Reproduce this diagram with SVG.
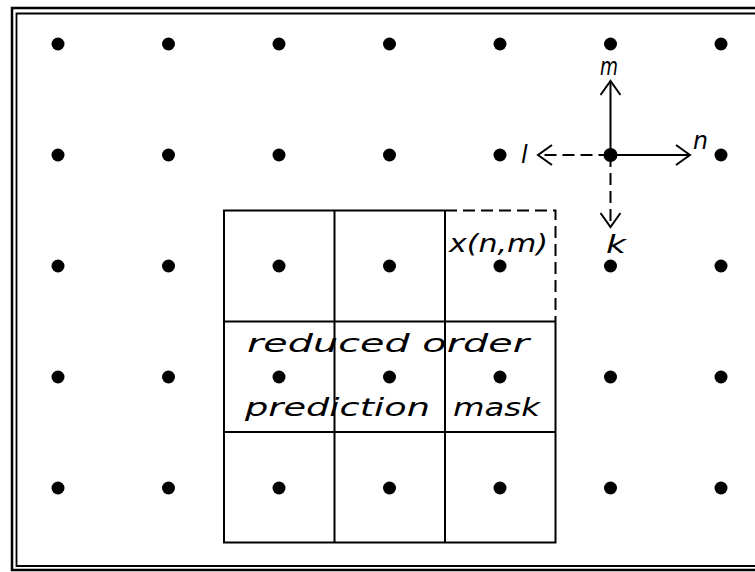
<svg xmlns="http://www.w3.org/2000/svg" width="755" height="572" viewBox="0 0 755 572">
<style>
.dot{fill:#000}
.grid{fill:none;stroke:#000;stroke-width:2}
.dash{fill:none;stroke:#000;stroke-width:2;stroke-dasharray:12 6}
.ax{fill:none;stroke:#000;stroke-width:2}
.axd{fill:none;stroke:#000;stroke-width:2;stroke-dasharray:12 6}
.lbl{font-family:"DejaVu Sans","Liberation Sans",sans-serif;font-style:oblique;font-size:24px;fill:#000}
</style>
<defs>
<marker id="chev" markerUnits="userSpaceOnUse" markerWidth="40" markerHeight="40" refX="0" refY="0" orient="auto" viewBox="-20 -20 40 40" overflow="visible">
<path d="M-14,-10 L0,0 L-14,10" fill="none" stroke="#000" stroke-width="2" stroke-dasharray="none"/>
</marker>
</defs>
<rect width="755" height="572" fill="#fff"/>
<g id="border">
<path d="M800,8 L12,8 L12,570 L800,570" fill="none" stroke="#000" stroke-width="2.5"/>
<path d="M800,13.5 L16.5,13.5 L16.5,566 L800,566" fill="none" stroke="#000" stroke-width="1.8"/>
</g>
<g id="dots">
<circle class="dot" cx="58" cy="44" r="6.5"/><circle class="dot" cx="168.5" cy="44" r="6.5"/><circle class="dot" cx="279" cy="44" r="6.5"/><circle class="dot" cx="389.5" cy="44" r="6.5"/><circle class="dot" cx="500" cy="44" r="6.5"/><circle class="dot" cx="610.5" cy="44" r="6.5"/><circle class="dot" cx="721" cy="44" r="6.5"/>
<circle class="dot" cx="58" cy="155" r="6.5"/><circle class="dot" cx="168.5" cy="155" r="6.5"/><circle class="dot" cx="279" cy="155" r="6.5"/><circle class="dot" cx="389.5" cy="155" r="6.5"/><circle class="dot" cx="500" cy="155" r="6.5"/><circle class="dot" cx="610.5" cy="155" r="7"/><circle class="dot" cx="721" cy="155" r="6.5"/>
<circle class="dot" cx="58" cy="266" r="6.5"/><circle class="dot" cx="168.5" cy="266" r="6.5"/><circle class="dot" cx="279" cy="266" r="6.5"/><circle class="dot" cx="389.5" cy="266" r="6.5"/><circle class="dot" cx="500" cy="266" r="6.5"/><circle class="dot" cx="610.5" cy="266" r="6.5"/><circle class="dot" cx="721" cy="266" r="6.5"/>
<circle class="dot" cx="58" cy="377" r="6.5"/><circle class="dot" cx="168.5" cy="377" r="6.5"/><circle class="dot" cx="279" cy="377" r="6.5"/><circle class="dot" cx="389.5" cy="377" r="6.5"/><circle class="dot" cx="500" cy="377" r="6.5"/><circle class="dot" cx="610.5" cy="377" r="6.5"/><circle class="dot" cx="721" cy="377" r="6.5"/>
<circle class="dot" cx="58" cy="488" r="6.5"/><circle class="dot" cx="168.5" cy="488" r="6.5"/><circle class="dot" cx="279" cy="488" r="6.5"/><circle class="dot" cx="389.5" cy="488" r="6.5"/><circle class="dot" cx="500" cy="488" r="6.5"/><circle class="dot" cx="610.5" cy="488" r="6.5"/><circle class="dot" cx="721" cy="488" r="6.5"/>
</g>
<g id="mask">
<path class="grid" d="M445,210.5 L224,210.5 L224,542.5 L555.5,542.5 L555.5,321.5 M334.5,210.5 L334.5,542.5 M445,210.5 L445,542.5 M224,321.5 L555.5,321.5 M224,432 L555.5,432"/>
<path class="dash" d="M445,210.5 L555.5,210.5 L555.5,321.5"/>
</g>
<g id="connectors">
<path class="ax" d="M610.5,155 L610.5,81" marker-end="url(#chev)"/>
<path class="ax" d="M610.5,155 L690,155" marker-end="url(#chev)"/>
<path class="axd" d="M610.5,155 L538,155" marker-end="url(#chev)"/>
<path class="axd" d="M610.5,155 L610.5,227" marker-end="url(#chev)"/>
</g>
<g id="labels">
<text class="lbl" x="600" y="75" textLength="18" lengthAdjust="spacingAndGlyphs">m</text>
<text class="lbl" x="693" y="149" textLength="15" lengthAdjust="spacingAndGlyphs">n</text>
<text class="lbl" x="521" y="163" font-size="27">l</text>
<text class="lbl" x="606" y="253" font-size="30" textLength="20" lengthAdjust="spacingAndGlyphs">k</text>
<text class="lbl" x="449" y="252" textLength="99" lengthAdjust="spacingAndGlyphs">x(n,m)</text>
<text class="lbl" x="247" y="352" textLength="282" lengthAdjust="spacingAndGlyphs">reduced order</text>
<text class="lbl" x="245" y="416" textLength="185" lengthAdjust="spacingAndGlyphs">prediction</text>
<text class="lbl" x="453" y="416" textLength="87" lengthAdjust="spacingAndGlyphs">mask</text>
</g>
</svg>
